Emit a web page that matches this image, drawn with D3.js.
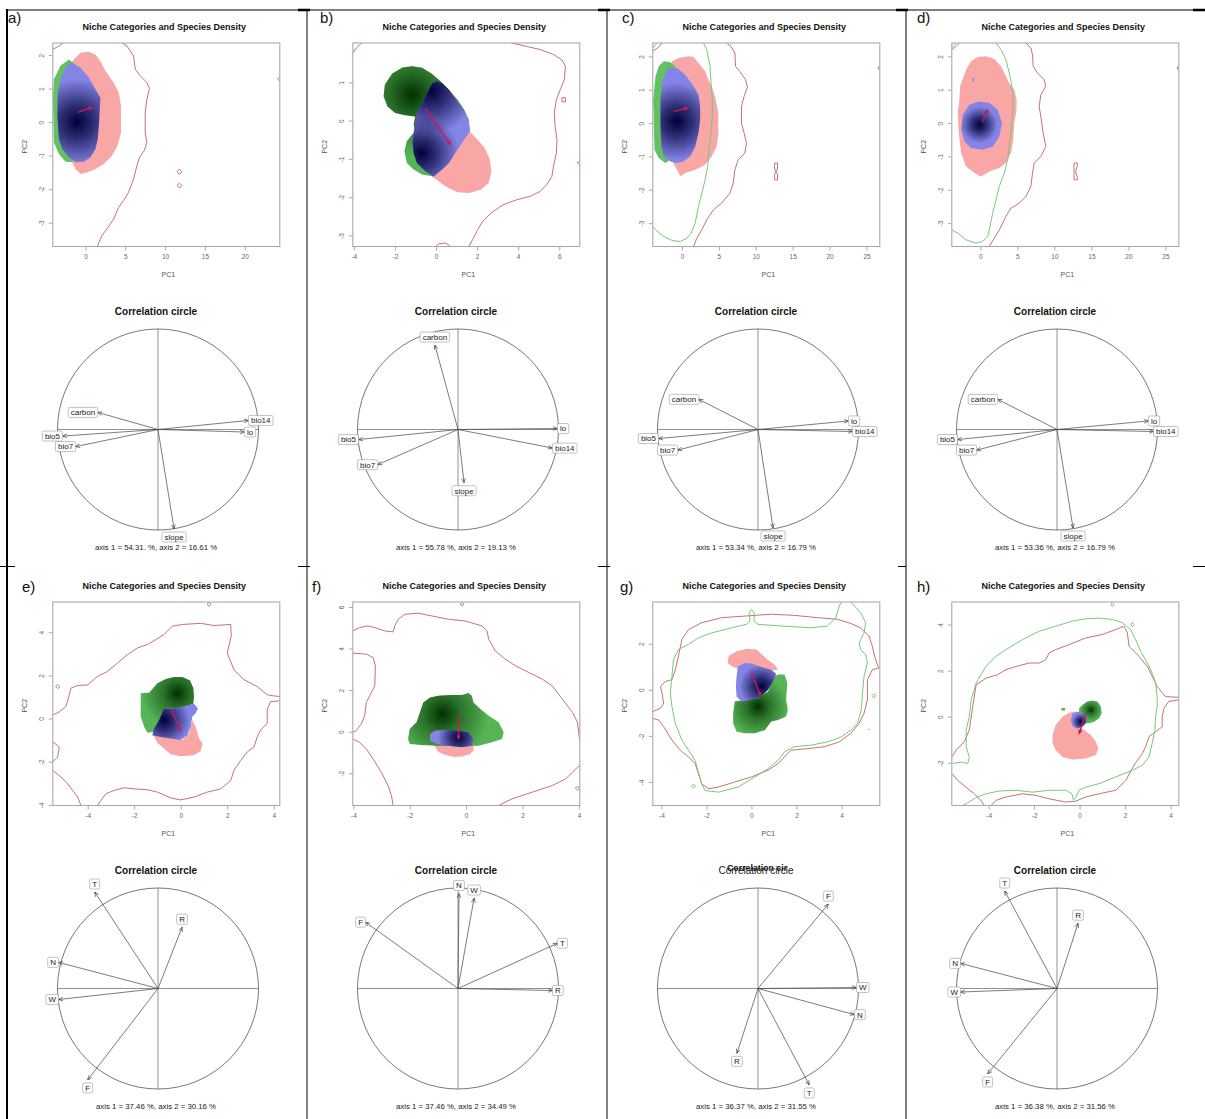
<!DOCTYPE html>
<html><head><meta charset="utf-8">
<script src="https://cdn.jsdelivr.net/npm/d3@7"></script>
<style>body{margin:0;background:#fff}svg{display:block}text{font-family:"Liberation Sans",Arial,sans-serif}</style>
</head><body><svg id="chart" width="1205" height="1119"></svg>
<script>
// ================= DATA =================
const panelLetters = ['a)','b)','c)','d)','e)','f)','g)','h)'];
const nicheTitle = 'Niche Categories and Species Density';
const corrTitle = 'Correlation circle';
const corrTitleOverlay = [null,null,null,null,null,null,'Correlation cir',null];

const pc1Domain = [[-4.1,24.4],[-4.05,7.0],[-3.95,26.8],[-3.86,26.8],[-5.5,4.26],[-4.02,4.03],[-4.38,5.7],[-5.62,4.36]];
const pc2Domain = [[-3.71,2.36],[-3.29,2.03],[-3.7,2.4],[-3.7,2.4],[-4.03,5.4],[-3.55,6.24],[-5.02,3.81],[-3.86,4.98]];
const pc1Ticks = [[0,5,10,15,20],[-4,-2,0,2,4,6],[0,5,10,15,20,25],[0,5,10,15,20,25],[-4,-2,0,2,4],[-4,-2,0,2,4],[-4,-2,0,2,4],[-4,-2,0,2,4]];
const pc2Ticks = [[-3,-2,-1,0,1,2],[-3,-2,-1,0,1],[-3,-2,-1,0,1,2],[-3,-2,-1,0,1,2],[-4,-2,0,2,4],[-2,0,2,4,6],[-4,-2,0,2],[-2,0,2,4]];

// niche regions (PC1, PC2)
const pinkNiche = [
 [[[-1.46,1.87],[-0.63,2.07],[0.42,2.10],[1.25,2.02],[1.87,1.82],[2.5,1.53],[3.54,1.18],[4.17,0.88],[4.46,0.49],[4.46,-0.31],[4.04,-0.70],[3.33,-1.0],[2.29,-1.25],[1.25,-1.40],[0.21,-1.50],[-0.63,-1.55],[-1.25,-1.40],[-1.88,-1.10],[-2.29,0.68],[-2.08,1.68]]],
 [[[-0.19,-1.46],[0.47,-1.72],[1.04,-1.87],[1.62,-1.89],[2.19,-1.80],[2.57,-1.63],[2.70,-1.32],[2.60,-0.98],[2.36,-0.71],[2.03,-0.50],[1.62,-0.28],[1.29,-0.15],[0.47,-0.15],[-1.01,-0.24],[-0.85,-0.50],[-0.68,-0.93]]],
 [[[-1.34,1.85],[-0.45,1.95],[0.90,2.0],[1.57,1.98],[2.24,1.80],[3.14,1.55],[3.58,1.30],[4.12,1.05],[4.57,0.70],[4.93,0.30],[4.93,-0.30],[4.70,-0.70],[4.03,-1.0],[3.14,-1.25],[1.79,-1.40],[0.45,-1.50],[-0.22,-1.60],[-0.90,-1.30],[-1.79,-1.0],[-2.02,1.2]]],
 [[[-2.83,0.70],[-2.74,1.10],[-1.93,1.60],[-1.26,1.85],[-0.36,1.98],[0.76,2.0],[1.88,1.92],[2.78,1.70],[3.45,1.40],[3.90,1.20],[4.58,1.0],[4.89,0.70],[4.89,0.40],[4.58,0.0],[4.44,-0.50],[4.13,-0.90],[3.45,-1.20],[2.56,-1.35],[1.21,-1.45],[0.09,-1.60],[-0.81,-1.50],[-1.93,-1.30],[-2.60,-0.90],[-2.92,-0.30],[-3.05,0.30]]],
 [[[-1.22,-0.69],[0.07,-1.0],[0.36,-0.69],[0.50,-0.07],[0.64,-0.38],[0.79,-0.92],[0.94,-1.16],[0.86,-1.50],[0.57,-1.70],[0.0,-1.75],[-0.43,-1.66],[-0.72,-1.39],[-1.0,-1.13]]],
 [[[-1.16,-0.59],[0.26,-0.43],[0.26,-0.91],[0.14,-1.07],[-0.10,-1.18],[-0.39,-1.22],[-0.75,-1.12],[-0.99,-0.96]]],
 [[[-1.06,1.16],[-1.0,1.48],[-0.66,1.67],[-0.22,1.78],[0.22,1.75],[0.47,1.53],[0.71,1.31],[1.03,1.09],[1.18,0.87],[-0.15,0.73],[-0.88,1.02]]],
 [[[-1.19,-0.80],[-1.05,-0.36],[-0.75,0.0],[-0.46,0.17],[-0.17,0.22],[0.05,0.15],[-0.02,-0.15],[-0.02,-0.44],[0.20,-0.58],[0.49,-0.80],[0.71,-1.09],[0.83,-1.38],[0.71,-1.67],[0.27,-1.82],[-0.31,-1.86],[-0.75,-1.75],[-1.05,-1.46],[-1.19,-1.16]]]
];
const greenNiche = [
 [[[-2.08,1.87],[-1.04,1.68],[-1.04,-0.80],[-1.67,-1.20],[-2.5,-1.18],[-3.33,-0.95],[-3.96,-0.61],[-4.08,0.68],[-3.96,1.28],[-3.13,1.68]]],
 [[[-2.49,0.94],[-2.13,1.23],[-1.63,1.39],[-1.17,1.42],[-0.68,1.38],[-0.22,1.23],[0.22,1.03],[0.63,0.81],[1.04,0.55],[1.37,0.29],[1.59,0.03],[1.65,-0.28],[1.29,-0.50],[0.47,-1.02],[-0.11,-1.46],[-0.68,-1.41],[-1.09,-1.28],[-1.42,-1.11],[-1.54,-0.80],[-1.42,-0.54],[-1.17,-0.37],[-1.01,-0.28],[-1.09,-0.10],[-1.01,0.11],[-1.50,0.14],[-1.99,0.20],[-2.36,0.37],[-2.55,0.64]]],
 [[[-2.46,1.85],[-1.57,1.82],[-0.90,1.70],[-0.90,-1.0],[-2.24,-1.2],[-3.14,-1.05],[-3.72,-0.80],[-3.90,0.70],[-3.58,1.40],[-3.14,1.70]]],
 [],
 [[[-1.72,1.17],[-1.36,1.20],[-1.0,1.64],[-0.64,1.83],[-0.29,1.92],[0.07,1.92],[0.40,1.76],[0.54,1.41],[0.57,1.02],[0.54,0.68],[0.0,0.47],[-0.64,0.47],[-1.0,-0.38],[-1.14,-0.61],[-1.43,-0.66],[-1.57,-0.38],[-1.72,0.09],[-1.72,0.71]]],
 [[[-2.06,-0.35],[-2.0,0.13],[-1.76,0.45],[-1.64,0.93],[-1.52,1.41],[-1.28,1.65],[-0.99,1.73],[-0.51,1.76],[-0.15,1.76],[0.08,1.86],[0.20,1.73],[0.26,1.41],[0.50,1.09],[0.80,0.77],[1.15,0.45],[1.33,-0.03],[1.27,-0.35],[0.92,-0.51],[0.44,-0.67],[-0.27,-0.70],[-0.99,-0.67],[-1.58,-0.64],[-2.0,-0.59]]],
 [[[-0.74,-0.51],[-0.29,-0.44],[0.29,-0.36],[0.74,-0.07],[1.03,0.58],[1.18,0.66],[1.47,0.66],[1.59,0.29],[1.54,-0.44],[1.62,-0.87],[1.54,-1.16],[1.18,-1.31],[0.88,-1.38],[0.59,-1.75],[0.15,-1.89],[-0.29,-1.89],[-0.66,-1.82],[-0.81,-1.46],[-0.81,-1.02]]],
 [[[-0.02,0.36],[0.12,0.51],[0.34,0.66],[0.56,0.70],[0.78,0.66],[0.93,0.44],[0.97,0.15],[0.86,-0.07],[0.64,-0.22],[0.42,-0.29],[0.20,-0.29],[0.05,-0.15],[-0.02,0.15]],
  [[-0.80,0.38],[-0.64,0.38],[-0.64,0.27],[-0.80,0.27]]]
];
const blueNiche = [
 [[[-1.88,1.78],[-0.63,1.63],[0.42,1.33],[1.25,0.98],[1.88,0.73],[1.79,0.39],[1.71,-0.01],[1.54,-0.51],[1.25,-0.80],[0.63,-1.05],[-0.21,-1.18],[-1.25,-1.20],[-2.08,-1.05],[-2.92,-0.80],[-3.33,-0.51],[-3.54,0.19],[-3.46,0.88],[-3.13,1.28],[-2.5,1.63]]],
 [[[0.06,1.03],[-0.19,0.98],[-0.43,0.72],[-0.68,0.46],[-0.93,0.20],[-1.01,-0.06],[-1.09,-0.32],[-1.14,-0.58],[-1.09,-0.85],[-0.93,-1.11],[-0.52,-1.32],[-0.11,-1.46],[0.30,-1.28],[0.63,-1.11],[1.04,-0.76],[1.37,-0.50],[1.65,-0.28],[1.59,0.03],[1.29,0.33],[0.96,0.55],[0.63,0.81],[0.30,0.98]]],
 [[[-1.79,1.65],[-0.67,1.65],[0.45,1.45],[1.57,1.10],[2.24,0.85],[2.46,0.50],[2.46,0.10],[2.24,-0.30],[1.79,-0.70],[1.12,-1.0],[0.22,-1.15],[-0.67,-1.20],[-1.57,-1.15],[-2.46,-1.0],[-2.78,-0.70],[-2.91,-0.10],[-2.91,0.70],[-2.69,1.20],[-2.24,1.50]]],
 [[[-0.13,0.65],[1.21,0.60],[2.33,0.40],[2.92,0.0],[2.56,-0.40],[1.66,-0.70],[0.31,-0.80],[-1.26,-0.75],[-2.15,-0.55],[-2.60,-0.20],[-2.38,0.25],[-1.48,0.55]],
  [[-1.05,1.35],[-0.85,1.35],[-0.85,1.24],[-1.05,1.24]]],
 [[[-0.72,0.47],[-0.36,0.47],[0.07,0.55],[0.57,0.68],[0.74,0.47],[0.64,0.24],[0.50,0.09],[0.43,-0.38],[0.29,-0.77],[0.0,-1.0],[-0.43,-0.92],[-0.86,-0.85],[-1.22,-0.77],[-1.14,-0.46],[-0.93,-0.07]]],
 [[[-1.28,-0.11],[-1.11,0.05],[-0.75,0.10],[-0.27,0.05],[0.08,-0.03],[0.26,-0.35],[0.20,-0.67],[-0.15,-0.75],[-0.63,-0.67],[-1.05,-0.59],[-1.28,-0.43]]],
 [[[-0.59,1.02],[-0.29,1.16],[0.0,1.14],[0.44,0.99],[0.88,0.87],[1.10,0.70],[0.96,0.36],[0.74,0.0],[0.44,-0.29],[0.0,-0.44],[-0.44,-0.51],[-0.66,-0.29],[-0.69,0.15],[-0.66,0.58],[-0.62,0.87]]],
 [[[-0.31,0.15],[-0.02,0.22],[0.20,0.07],[0.34,0.0],[0.27,-0.29],[0.12,-0.44],[-0.10,-0.51],[-0.31,-0.41],[-0.39,-0.15]]]
];
// density peaks
const blueDensityPeaks = [[[-1.04,0.0]],[[-0.25,0.78],[-0.70,-0.85]],[[-0.67,0.05]],[[-0.13,-0.05]],[[-0.72,-0.07]],[[-0.27,-0.27]],[[0.44,0.15]],[[0.05,-0.22]]];
const greenDensityPeaks = [[],[[-1.17,0.68]],[],[],[[-0.14,1.17]],[[-0.85,0.85]],[[0.29,-0.73]],[[0.49,0.29]]];
// centroid shift arrows [x0,y0,x1,y1]
const centroidShift = [[-0.96,0.29,0.83,0.44],[-0.52,0.33,0.71,-0.63],[-1.12,0.35,0.81,0.45],[0.31,0.05,0.99,0.40],[-0.43,0.40,0.0,-0.54],[-0.27,0.80,-0.27,-0.35],[0.0,0.73,0.41,-0.26],[0.27,0.15,-0.02,-0.73]];

// environment contours
const redContours = [
 [[[4.58,2.37],[5.21,2.27],[6.04,1.97],[6.25,1.58],[6.88,1.38],[7.71,1.18],[8.04,1.0],[7.71,0.68],[7.5,0.29],[7.5,-0.31],[7.71,-0.61],[7.38,-0.85],[6.79,-1.05],[6.46,-1.30],[6.04,-1.70],[5.42,-2.09],[4.79,-2.34],[4.17,-2.54],[3.54,-2.89],[2.71,-3.18],[2.08,-3.38],[1.46,-3.72]],
  [[-4.1,2.17],[-3.33,2.27],[-2.79,2.36]],
  [[11.5,-1.48],[11.8,-1.40],[12.1,-1.48],[11.8,-1.56],[11.5,-1.48]],
  [[11.5,-1.89],[11.8,-1.82],[12.1,-1.89],[11.8,-1.97],[11.5,-1.89]],
  [[24.4,1.36],[24.1,1.29],[24.4,1.22]]],
 [[[3.67,2.03],[4.41,1.94],[5.07,1.86],[5.72,1.73],[6.13,1.59],[6.30,1.42],[6.25,1.07],[6.05,0.81],[5.86,0.55],[5.76,0.20],[5.80,-0.15],[5.89,-0.50],[5.86,-0.85],[5.72,-1.19],[5.64,-1.46],[5.39,-1.67],[5.07,-1.85],[4.58,-1.98],[3.92,-2.07],[3.26,-2.20],[2.69,-2.41],[2.28,-2.63],[2.03,-2.85],[1.78,-3.11],[1.59,-3.30]],
  [[-4.05,1.77],[-3.88,1.90],[-3.62,2.03]],
  [[-0.02,-3.29],[0.14,-3.22],[0.47,-3.20],[0.71,-3.29]],
  [[6.13,0.60],[6.30,0.60],[6.30,0.49],[6.13,0.49],[6.13,0.60]],
  [[7.0,-1.05],[6.88,-1.10],[7.0,-1.16]]],
 [[[6.05,2.4],[6.63,2.30],[7.17,2.10],[7.26,1.70],[7.84,1.55],[8.6,1.30],[8.87,1.08],[8.42,0.80],[8.06,0.50],[8.06,0.0],[8.42,-0.30],[8.74,-0.60],[8.51,-0.90],[7.62,-1.10],[7.17,-1.40],[6.94,-1.80],[6.50,-2.10],[5.38,-2.40],[4.26,-2.60],[3.36,-2.90],[2.69,-3.20],[2.02,-3.45],[1.57,-3.7]],
  [[-3.95,2.15],[-3.14,2.28],[-2.69,2.4]],
  [[12.55,-1.2],[12.95,-1.2],[12.95,-1.35],[12.8,-1.45],[12.95,-1.55],[12.95,-1.7],[12.55,-1.7],[12.55,-1.55],[12.7,-1.45],[12.55,-1.35],[12.55,-1.2]],
  [[26.8,1.72],[26.55,1.65],[26.8,1.58]]],
 [[[6.15,2.4],[6.82,2.25],[7.04,2.05],[7.13,1.70],[7.72,1.50],[8.61,1.30],[8.84,1.10],[8.17,0.85],[7.94,0.50],[8.30,0.0],[8.48,-0.30],[8.84,-0.70],[8.17,-1.0],[7.27,-1.20],[7.04,-1.50],[6.82,-1.90],[6.15,-2.20],[5.25,-2.40],[4.13,-2.55],[3.45,-2.80],[2.56,-3.20],[1.88,-3.45],[1.21,-3.7]],
  [[-3.86,2.2],[-3.28,2.3],[-2.83,2.4]],
  [[12.65,-1.2],[13.1,-1.2],[13.1,-1.3],[12.9,-1.4],[12.9,-1.5],[13.1,-1.6],[13.1,-1.7],[12.65,-1.7],[12.65,-1.2]],
  [[26.8,1.72],[26.55,1.65],[26.8,1.58]]],
 [[[-5.5,0.16],[-5.22,0.31],[-4.94,0.55],[-4.79,1.10],[-4.72,1.41],[-4.43,1.53],[-4.0,1.56],[-3.58,1.95],[-3.15,2.18],[-2.72,2.57],[-2.29,2.96],[-1.86,3.27],[-1.43,3.43],[-1.07,3.66],[-0.72,3.89],[-0.36,4.28],[0.07,4.36],[0.86,4.41],[1.43,4.31],[2.15,4.36],[2.17,3.81],[2.0,3.04],[2.29,2.26],[2.72,1.80],[3.29,1.48],[3.72,1.10],[4.0,1.05],[4.26,1.02]],
  [[4.26,0.82],[3.86,0.78],[3.72,0.40],[3.72,-0.22],[3.43,-0.54],[3.29,-0.85],[3.15,-1.32],[2.86,-1.55],[2.58,-1.94],[2.29,-2.40],[2.15,-2.87],[1.72,-3.26],[1.14,-3.41],[0.57,-3.64],[0.0,-3.77],[-0.43,-3.68],[-1.0,-3.41],[-1.43,-3.30],[-2.0,-3.26],[-2.43,-3.21],[-2.86,-3.33],[-3.22,-3.49],[-3.43,-3.80],[-3.58,-4.03]],
  [[-5.5,-1.08],[-5.22,-1.32],[-5.29,-1.78],[-5.5,-2.01]],
  [[-5.5,-2.40],[-5.15,-2.71],[-4.86,-3.02],[-4.65,-3.33],[-4.43,-3.64],[-4.29,-4.03]],
  [[-5.38,1.48],[-5.29,1.57],[-5.20,1.48],[-5.29,1.39],[-5.38,1.48]],
  [[1.13,5.29],[1.22,5.38],[1.31,5.29],[1.22,5.20],[1.13,5.29]]],
 [[[-4.02,4.85],[-3.78,5.01],[-3.48,5.09],[-3.24,5.01],[-2.89,4.85],[-2.59,4.80],[-2.53,5.09],[-2.41,5.41],[-2.17,5.65],[-1.70,5.70],[-1.22,5.57],[-0.63,5.41],[-0.04,5.33],[0.56,5.09],[0.74,4.85],[0.80,4.45],[1.03,3.89],[1.39,3.49],[1.75,3.17],[2.22,2.85],[2.70,2.53],[3.05,2.21],[3.41,1.57],[3.77,0.93],[3.95,0.45],[4.03,-0.5]],
  [[1.15,-3.55],[1.63,-3.23],[2.34,-2.91],[3.05,-2.59],[3.53,-2.27],[3.77,-1.95],[3.95,-1.71],[4.03,-1.63]],
  [[-4.02,3.78],[-3.54,3.73],[-3.30,3.57],[-3.22,3.17],[-3.24,2.21],[-3.42,1.73],[-3.54,1.41],[-3.60,0.77],[-3.72,0.37],[-3.90,0.05],[-4.02,-0.03]],
  [[-4.02,-0.35],[-3.78,-0.51],[-3.54,-0.83],[-3.30,-1.31],[-3.01,-1.95],[-2.77,-2.59],[-2.65,-3.07],[-2.59,-3.55]],
  [[3.87,-2.72],[3.95,-2.63],[4.03,-2.72],[3.95,-2.81],[3.87,-2.72]],
  [[-0.22,6.13],[-0.15,6.22],[-0.08,6.13],[-0.15,6.05],[-0.22,6.13]]],
 [[[-4.38,-0.95],[-4.04,-0.80],[-3.90,-0.58],[-3.97,-0.15],[-4.04,0.15],[-3.82,0.36],[-3.53,0.44],[-3.38,0.87],[-3.24,1.46],[-3.09,2.18],[-2.79,2.62],[-2.21,2.91],[-1.32,3.13],[-0.29,3.20],[0.88,3.28],[1.91,3.23],[2.94,3.13],[3.82,3.06],[4.41,2.88],[4.85,2.69],[5.22,2.33],[5.37,1.89],[5.47,1.46],[5.59,1.09],[5.66,0.95],[5.37,0.87],[5.15,0.44],[5.15,-0.44],[5.0,-1.02],[4.78,-1.46],[4.41,-1.89],[3.90,-2.26],[3.24,-2.47],[2.50,-2.55],[1.76,-2.62],[1.47,-2.91],[1.18,-3.20],[0.74,-3.49],[0.0,-3.78],[-0.74,-4.0],[-1.47,-4.22],[-1.91,-4.29],[-2.21,-4.08],[-2.35,-3.64],[-2.50,-3.20],[-2.79,-2.91],[-3.16,-2.62],[-3.53,-2.18],[-3.90,-1.60],[-4.12,-1.31],[-4.38,-1.24]],
  [[5.19,-1.72],[5.25,-1.72]]],
 [[[-5.61,-1.75],[-5.43,-1.46],[-5.07,-1.09],[-4.85,-0.58],[-4.70,0.44],[-4.55,1.38],[-4.12,1.67],[-3.61,1.82],[-3.24,2.04],[-2.80,2.18],[-2.21,2.33],[-1.78,2.33],[-1.49,2.47],[-1.34,2.77],[-1.05,2.91],[-0.46,3.13],[0.27,3.42],[1.0,3.57],[1.58,3.78],[1.95,3.93],[2.10,3.64],[2.17,3.06],[2.61,2.62],[2.98,2.18],[3.19,1.75],[3.41,1.31],[3.77,0.87],[4.36,0.84]],
  [[4.36,0.73],[3.92,0.66],[3.71,0.36],[3.63,0.0],[3.63,-0.44],[3.34,-0.66],[3.05,-0.87],[2.90,-1.31],[2.76,-1.60],[2.39,-2.11],[2.03,-2.77],[1.59,-3.20],[0.86,-3.35],[0.27,-3.49],[-0.17,-3.67],[-0.61,-3.71],[-1.34,-3.57],[-1.92,-3.42],[-2.51,-3.35],[-3.24,-3.49],[-3.68,-3.64],[-3.90,-3.86]],
  [[-5.61,-2.47],[-5.36,-2.77],[-5.0,-3.06],[-4.63,-3.35],[-4.34,-3.64],[-4.19,-3.86]]]
];
const greenContours = [
 [], [],
 [[[2.91,2.4],[3.36,2.2],[3.81,1.70],[3.94,1.20],[4.12,0.70],[4.12,0.20],[3.94,-0.30],[3.67,-0.80],[3.49,-1.30],[3.14,-1.70],[2.69,-2.10],[2.24,-2.50],[1.79,-3.0],[1.25,-3.30],[0.67,-3.45],[-0.22,-3.55],[-1.34,-3.52],[-2.46,-3.40],[-3.58,-3.20],[-3.95,-3.10]],
  [[-3.95,2.25],[-3.58,2.35],[-3.36,2.4]]],
 [[[2.11,2.4],[2.78,2.2],[3.45,1.9],[3.90,1.5],[4.26,1.1],[4.44,0.7],[4.35,0.3],[4.13,-0.3],[3.90,-0.7],[3.68,-1.1],[3.23,-1.5],[2.56,-1.9],[2.11,-2.3],[1.66,-2.7],[1.21,-3.2],[0.99,-3.4],[0.31,-3.55],[-0.58,-3.6],[-1.93,-3.5],[-3.05,-3.3],[-3.86,-3.2]],
  [[-3.86,2.25],[-3.5,2.35],[-3.3,2.4]]],
 [], [],
 [[[-2.79,1.97],[-2.35,2.26],[-1.76,2.47],[-0.88,2.69],[-0.22,2.84],[-0.07,2.98],[-0.10,3.35],[0.0,3.49],[0.12,3.35],[0.12,2.98],[0.29,2.84],[1.32,2.77],[2.65,2.69],[3.38,2.77],[3.75,3.13],[3.90,3.64],[4.0,3.81]],
  [[4.41,3.81],[4.85,3.35],[5.07,2.91],[5.0,2.47],[4.78,2.04],[4.85,1.75],[5.07,1.53],[5.15,1.16],[5.0,0.58],[4.93,-0.15],[4.88,-0.87],[4.71,-1.46],[4.41,-1.75],[4.0,-2.04],[3.38,-2.26],[2.65,-2.40],[1.91,-2.47],[1.47,-2.69],[1.18,-3.06],[0.74,-3.42],[0.15,-3.78],[-0.59,-4.22],[-1.47,-4.44],[-2.06,-4.37],[-2.21,-4.08],[-2.50,-3.06],[-2.79,-2.62],[-3.09,-2.18],[-3.38,-1.46],[-3.53,-0.73],[-3.60,-0.15],[-3.53,0.58],[-3.46,1.31],[-3.24,1.75],[-2.79,1.97]],
  [[-2.66,-4.18],[-2.57,-4.09],[-2.48,-4.18],[-2.57,-4.27],[-2.66,-4.18]],
  [[5.35,-0.26],[5.44,-0.17],[5.53,-0.26],[5.44,-0.35],[5.35,-0.26]]],
 [[[-5.58,-2.04],[-5.21,-1.97],[-4.92,-2.04],[-4.85,-1.75],[-4.99,-1.31],[-4.99,-0.58],[-4.85,0.0],[-4.77,0.73],[-4.55,1.46],[-4.12,2.18],[-3.68,2.62],[-3.24,2.91],[-2.51,3.35],[-1.78,3.71],[-1.05,3.93],[-0.31,4.15],[0.27,4.25],[0.86,4.28],[1.44,4.22],[1.88,4.08],[2.24,3.78],[2.46,3.35],[2.68,2.84],[2.98,2.33],[3.19,1.89],[3.34,1.46],[3.41,0.87],[3.41,0.44],[3.34,0.0],[3.31,-0.58],[3.19,-1.16],[3.05,-1.75],[2.76,-2.11],[2.32,-2.33],[1.59,-2.62],[0.86,-2.91],[0.27,-3.06],[-0.02,-3.20],[-0.17,-3.52],[-0.28,-3.61],[-0.34,-3.35],[-0.61,-3.20],[-1.34,-3.20],[-2.07,-3.28],[-2.80,-3.20],[-3.53,-3.23],[-4.12,-3.35],[-4.55,-3.52],[-4.99,-3.78],[-5.21,-3.90]],
  [[1.37,4.88],[1.44,4.97],[1.51,4.88],[1.44,4.79],[1.37,4.88]],
  [[2.25,4.0],[2.32,4.09],[2.39,4.0],[2.32,3.91],[2.25,4.0]]]
];

// correlation circles
const corrVars = [
 ['carbon','bio5','bio7','bio14','lo','slope'],
 ['carbon','bio5','bio7','bio14','lo','slope'],
 ['carbon','bio5','bio7','bio14','lo','slope'],
 ['carbon','bio5','bio7','bio14','lo','slope'],
 ['T','R','N','W','F'],
 ['N','W','F','T','R'],
 ['F','W','N','R','T'],
 ['T','R','N','W','F']
];
const corrX = [
 [-0.60,-0.95,-0.82,0.90,0.86,0.16],
 [-0.23,-0.99,-0.80,0.94,0.99,0.06],
 [-0.59,-0.99,-0.80,0.94,0.90,0.15],
 [-0.59,-0.99,-0.80,0.96,0.91,0.16],
 [-0.63,0.24,-0.99,-0.99,-0.70],
 [0.01,0.16,-0.92,0.99,0.94],
 [0.70,0.98,0.96,-0.21,0.51],
 [-0.52,0.21,-0.96,-0.96,-0.69]
];
const corrY = [
 [0.17,-0.065,-0.17,0.09,-0.025,-0.99],
 [0.84,-0.10,-0.35,-0.185,0.01,-0.53],
 [0.30,-0.09,-0.205,-0.02,0.085,-0.98],
 [0.30,-0.10,-0.205,-0.02,0.085,-0.98],
 [0.96,0.61,0.26,-0.11,-0.91],
 [0.945,0.90,0.66,0.45,-0.02],
 [0.84,0.01,-0.26,-0.645,-0.96],
 [0.97,0.65,0.25,-0.035,-0.85]
];
const axis1Pct = ['54.31.','55.78','53.34','53.36','37.46','37.46','36.37','36.38'];
const axis2Pct = ['16.61','19.13','16.79','16.79','30.16','34.49','31.55','31.56'];

// ================= LAYOUT =================
const colLeft = [7, 307, 607, 906];
const rowTop = [0, 559];
const letterDX = [1, 13, 15, 11, 15, 5, 13, 11];
const letterBase = [23, 33];
const boxDX = 45.8, boxW = 227, boxTop = 43, boxH = 203.5;
const circDX = 151, circCY = 429.5, circR = 100.5;

const svg = d3.select('#chart');
const defs = svg.append('defs');
function radial(id, color, mid) {
  const g = defs.append('radialGradient').attr('id', id);
  g.append('stop').attr('offset', '0%').attr('stop-color', color).attr('stop-opacity', 1);
  g.append('stop').attr('offset', '40%').attr('stop-color', color).attr('stop-opacity', mid);
  g.append('stop').attr('offset', '100%').attr('stop-color', color).attr('stop-opacity', 0);
}
radial('gBlue', '#00003a', 0.65);
radial('gGreen', '#003000', 0.5);
defs.append('marker').attr('id', 'mCorr').attr('viewBox', '0 0 8 8').attr('refX', 7.5).attr('refY', 4)
  .attr('markerWidth', 5).attr('markerHeight', 5).attr('orient', 'auto').attr('markerUnits', 'userSpaceOnUse')
  .append('path').attr('d', 'M0.5,1 L7.5,4 L0.5,7').attr('fill', 'none').attr('stroke', '#333').attr('stroke-width', 1);
defs.append('marker').attr('id', 'mShift').attr('viewBox', '0 0 8 8').attr('refX', 6).attr('refY', 4)
  .attr('markerWidth', 5).attr('markerHeight', 5).attr('orient', 'auto').attr('markerUnits', 'userSpaceOnUse')
  .append('path').attr('d', 'M0,0.5 L8,4 L0,7.5 Z').attr('fill', '#cc1a50');

panelLetters.forEach((letter, i) => {
  const col = i % 4, row = Math.floor(i / 4);
  const X0 = colLeft[col], Y0 = rowTop[row];
  const g = svg.append('g');

  g.append('text').attr('x', X0 + letterDX[i]).attr('y', Y0 + letterBase[row])
    .attr('font-size', 15).attr('fill', '#111').text(letter);

  // ---------- niche plot ----------
  const bx = X0 + boxDX, by = Y0 + boxTop;
  const x = d3.scaleLinear().domain(pc1Domain[i]).range([bx, bx + boxW]);
  const y = d3.scaleLinear().domain(pc2Domain[i]).range([by + boxH, by]);
  g.append('text').attr('x', bx + boxW / 2 - 2).attr('y', Y0 + 30).attr('text-anchor', 'middle')
    .attr('font-size', 9).attr('font-weight', 'bold').attr('fill', '#111').text(nicheTitle);

  const clipId = 'box' + i;
  defs.append('clipPath').attr('id', clipId).append('rect')
    .attr('x', bx).attr('y', by).attr('width', boxW).attr('height', boxH);
  const plot = g.append('g').attr('clip-path', `url(#${clipId})`);
  const ring = d3.line().x(d => x(d[0])).y(d => y(d[1])).curve(d3.curveLinearClosed);
  const pline = d3.line().x(d => x(d[0])).y(d => y(d[1]));

  function region(rings, peaks, base, grad, key) {
    if (!rings.length) return;
    const dstr = rings.map(r => ring(r)).join('');
    plot.append('path').attr('d', dstr).attr('fill', base);
    if (!peaks.length) return;
    const cid = key + i;
    defs.append('clipPath').attr('id', cid).append('path').attr('d', dstr);
    const pts = rings[0];
    const k = 0.72 / Math.sqrt(peaks.length);
    peaks.forEach(p => {
      const cx = x(p[0]), cy = y(p[1]);
      const maxD = d3.max(pts, v => Math.hypot(x(v[0]) - cx, y(v[1]) - cy));
      plot.append('circle').attr('cx', cx).attr('cy', cy).attr('r', maxD * k)
        .attr('fill', `url(#${grad})`).attr('clip-path', `url(#${cid})`);
    });
  }
  region(pinkNiche[i], [], '#f8a6a6', null, 'pk');
  region(greenNiche[i], greenDensityPeaks[i], greenDensityPeaks[i].length ? '#55b455' : '#62c162', 'gGreen', 'gr');
  region(blueNiche[i], blueDensityPeaks[i], '#8484e6', 'gBlue', 'bl');

  redContours[i].forEach(c => plot.append('path').attr('d', pline(c)).attr('fill', 'none')
    .attr('stroke', '#c47272').attr('stroke-width', 1));
  greenContours[i].forEach(c => plot.append('path').attr('d', pline(c)).attr('fill', 'none')
    .attr('stroke', '#78c878').attr('stroke-width', 1));

  const s = centroidShift[i];
  plot.append('line').attr('x1', x(s[0])).attr('y1', y(s[1])).attr('x2', x(s[2])).attr('y2', y(s[3]))
    .attr('stroke', '#cc1a50').attr('stroke-width', 1.4).attr('marker-end', 'url(#mShift)');

  g.append('rect').attr('x', bx).attr('y', by).attr('width', boxW).attr('height', boxH)
    .attr('fill', 'none').attr('stroke', '#aaa').attr('stroke-width', 1.1);

  const ax = g.append('g').attr('transform', `translate(0,${by + boxH})`)
    .call(d3.axisBottom(x).tickValues(pc1Ticks[i]).tickSize(4).tickPadding(4).tickFormat(d => String(d)));
  const ay = g.append('g').attr('transform', `translate(${bx},0)`)
    .call(d3.axisLeft(y).tickValues(pc2Ticks[i]).tickSize(4).tickFormat(d => String(d)));
  [ax, ay].forEach(a => {
    a.select('.domain').remove();
    a.selectAll('line').attr('stroke', '#aaa');
    a.selectAll('text').attr('fill', '#666').attr('font-size', 6.5).attr('font-family', '"Liberation Sans",Arial,sans-serif');
  });
  ay.selectAll('text').attr('transform', 'rotate(-90)').attr('x', 0).attr('y', -9).attr('dy', 0)
    .attr('text-anchor', 'middle');
  g.append('text').attr('x', bx + boxW / 2 + 2).attr('y', by + boxH + 30).attr('text-anchor', 'middle')
    .attr('font-size', 7).attr('fill', '#555').text('PC1');
  g.append('text').attr('transform', `translate(${bx - 26},${by + boxH / 2 + 2}) rotate(-90)`)
    .attr('text-anchor', 'middle').attr('font-size', 7).attr('fill', '#555').text('PC2');

  // ---------- correlation circle ----------
  const ccx = X0 + circDX, ccy = Y0 + circCY;
  const cxs = d3.scaleLinear().domain([-1, 1]).range([ccx - circR, ccx + circR]);
  const cys = d3.scaleLinear().domain([-1, 1]).range([ccy + circR, ccy - circR]);
  if (corrTitleOverlay[i]) {
    g.append('text').attr('x', ccx - 2).attr('y', Y0 + 314.5).attr('text-anchor', 'middle')
      .attr('font-size', 10).attr('fill', '#222').text(corrTitle);
    g.append('text').attr('x', ccx - 31).attr('y', Y0 + 311.5)
      .attr('font-size', 8.8).attr('font-weight', 'bold').attr('fill', '#111').text(corrTitleOverlay[i]);
  } else {
    g.append('text').attr('x', ccx - 2).attr('y', Y0 + 314.5).attr('text-anchor', 'middle')
      .attr('font-size', 10).attr('font-weight', 'bold').attr('fill', '#111').text(corrTitle);
  }
  g.append('line').attr('x1', cxs(-1)).attr('x2', cxs(1)).attr('y1', cys(0)).attr('y2', cys(0))
    .attr('stroke', '#777').attr('stroke-width', 0.8);
  g.append('line').attr('x1', cxs(0)).attr('x2', cxs(0)).attr('y1', cys(-1)).attr('y2', cys(1))
    .attr('stroke', '#777').attr('stroke-width', 0.8);
  g.append('circle').attr('cx', cxs(0)).attr('cy', cys(0)).attr('r', cxs(1) - cxs(0))
    .attr('fill', 'none').attr('stroke', '#555').attr('stroke-width', 0.8);

  corrVars[i].forEach((name, k) => {
    const vx = corrX[i][k], vy = corrY[i][k];
    g.append('line').attr('x1', cxs(0)).attr('y1', cys(0)).attr('x2', cxs(vx)).attr('y2', cys(vy))
      .attr('stroke', '#444').attr('stroke-width', 0.7).attr('marker-end', 'url(#mCorr)');
  });
  corrVars[i].forEach((name, k) => {
    const vx = corrX[i][k], vy = corrY[i][k];
    const tx = cxs(vx), ty = cys(vy);
    const lg = g.append('g');
    const t = lg.append('text').attr('font-size', 8).attr('fill', '#222').attr('text-anchor', 'middle').text(name);
    const w = t.node().getComputedTextLength() + 5, h = 10;
    let lx = tx, ly = ty;
    if (vx > vy && vx > -vy) lx = tx + w / 2;
    else if (vx > vy && vx <= -vy) ly = ty + h * 0.8;
    else if (vx <= vy && vx <= -vy) lx = tx - w / 2;
    else ly = ty - h * 0.8;
    lg.insert('rect', 'text').attr('x', lx - w / 2).attr('y', ly - h / 2).attr('width', w).attr('height', h)
      .attr('rx', 1.5).attr('fill', '#fff').attr('stroke', '#999').attr('stroke-width', 0.6);
    t.attr('x', lx).attr('y', ly + 2.9);
  });
  g.append('text').attr('x', ccx - 2).attr('y', Y0 + 549.5).attr('text-anchor', 'middle')
    .attr('font-size', 7.8).attr('fill', '#222')
    .text(`axis 1 = ${axis1Pct[i]} %, axis 2 = ${axis2Pct[i]} %`);
});

// ---------- table rules ----------
const rules = svg.append('g').attr('stroke', '#000');
rules.append('line').attr('x1', 7).attr('x2', 1205).attr('y1', 10).attr('y2', 10).attr('stroke-width', 1);
rules.append('line').attr('x1', 7).attr('x2', 7).attr('y1', 9).attr('y2', 1119).attr('stroke-width', 2);
colLeft.slice(1).forEach(cx => rules.append('line').attr('x1', cx).attr('x2', cx).attr('y1', 10).attr('y2', 1119).attr('stroke-width', 1));
[[298, 310], [598, 610], [896, 908], [1193, 1205]].forEach(s =>
  rules.append('line').attr('x1', s[0]).attr('x2', s[1]).attr('y1', 10).attr('y2', 10).attr('stroke-width', 2.5));
[[0, 15], [298, 310], [598, 610], [898, 906], [1193, 1205]].forEach(s =>
  rules.append('line').attr('x1', s[0]).attr('x2', s[1]).attr('y1', 566.5).attr('y2', 566.5).attr('stroke-width', 1));
</script></body></html>
